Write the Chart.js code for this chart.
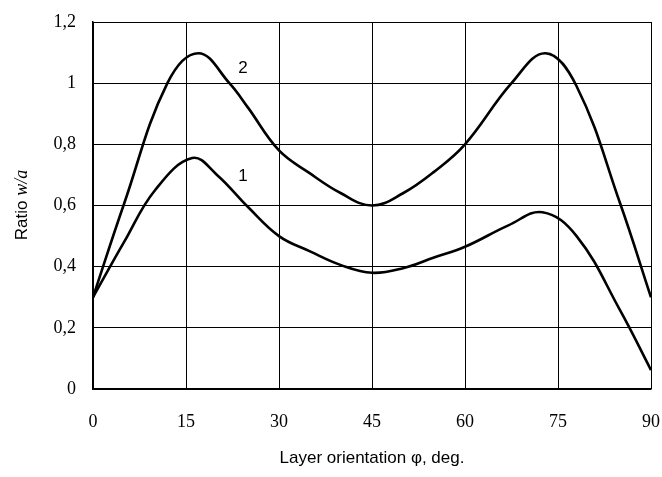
<!DOCTYPE html>
<html>
<head>
<meta charset="utf-8">
<script src="https://cdn.jsdelivr.net/npm/chart.js@4"></script>
<style>
  html, body { margin: 0; padding: 0; background: #fff; }
  #wrap { width: 662px; height: 477px; }
</style>
</head>
<body>
<div id="wrap"><canvas id="chart" width="662" height="477"></canvas></div>
<script>
// angle values (deg) and ratio w/a for the two curves
const angles1 = [0, 5, 10, 16, 20, 25, 30, 35, 40, 45, 50, 55, 60, 67, 72.5, 78, 85, 90];
const ratio1  = [0.30, 0.48, 0.65, 0.755, 0.70, 0.595, 0.50, 0.45, 0.405, 0.38, 0.395, 0.43, 0.465, 0.535, 0.578, 0.50, 0.258, 0.062];

const angles2 = [0, 5, 12, 17, 22, 25, 30, 35, 40, 45, 50, 55, 60, 67.5, 73, 78, 85, 90];
const ratio2  = [0.30, 0.605, 1.00, 1.098, 1.00, 0.92, 0.78, 0.705, 0.64, 0.60, 0.64, 0.71, 0.80, 1.00, 1.098, 0.99, 0.608, 0.30];

const xTicks = [0, 15, 30, 45, 60, 75, 90];
const yTicks = [0, 0.2, 0.4, 0.6, 0.8, 1, 1.2];

// curve labels (at x deg, y ratio)
const curveLabels = ["1", "2"];
const labelX = [24.2, 24.2];
const labelY = [0.695, 1.05];

const toPoints = (xs, ys) => xs.map((x, i) => ({ x: x, y: ys[i] }));

// -------------------- curve numbers + y title with italic w/a --------------------
const extras = {
    id: "extras",
    afterDraw(chart) {
        const ctx = chart.ctx;
        const sx = chart.scales.x, sy = chart.scales.y;
        ctx.save();
        ctx.fillStyle = "#000";
        ctx.font = "17px 'Liberation Sans', Arial, sans-serif";
        ctx.textAlign = "center";
        ctx.textBaseline = "middle";
        curveLabels.forEach((t, i) => {
            ctx.fillText(t, sx.getPixelForValue(labelX[i]), sy.getPixelForValue(labelY[i]));
        });

        // y axis title
        const a = "Ratio ";
        const b = "w/a";
        const fa = "17px 'Liberation Sans', Arial, sans-serif";
        const fb = "italic 18px 'Liberation Serif', 'Times New Roman', serif";
        ctx.font = fa;
        const wa = ctx.measureText(a).width;
        ctx.font = fb;
        const wb = ctx.measureText(b).width;
        const total = wa + wb;
        ctx.translate(22, 205);
        ctx.rotate(-Math.PI / 2);
        ctx.textAlign = "left";
        ctx.font = fa;
        ctx.fillText(a, -total / 2, 0);
        ctx.font = fb;
        ctx.fillText(b, -total / 2 + wa, 0);
        ctx.restore();
    }
};

new Chart(document.getElementById("chart"), {
    type: "line",
    data: {
        datasets: [
            { data: toPoints(angles1, ratio1), borderColor: "#000", borderWidth: 2.6, pointRadius: 0, tension: 0.4, fill: false },
            { data: toPoints(angles2, ratio2), borderColor: "#000", borderWidth: 2.6, pointRadius: 0, tension: 0.4, fill: false }
        ]
    },
    options: {
        responsive: false,
        animation: false,
        layout: { padding: { left: 0, right: 11, top: 22, bottom: 0 } },
        plugins: { legend: { display: false }, tooltip: { enabled: false } },
        scales: {
            x: {
                type: "linear",
                min: 0, max: 90,
                afterBuildTicks: s => { s.ticks = xTicks.map(v => ({ value: v })); },
                afterFit: s => { s.height = 88; s.paddingLeft = 0; s.paddingRight = 0; },
                grid: { color: "#000", lineWidth: 1, drawTicks: false },
                border: { color: "#000", width: 1.5 },
                ticks: {
                    padding: 22,
                    color: "#000",
                    font: { family: "'Liberation Serif', 'Times New Roman', serif", size: 18 }
                },
                title: {
                    display: true,
                    text: "Layer orientation \u03c6, deg.",
                    color: "#000",
                    padding: { top: 0, bottom: 8 },
                    font: { family: "'Liberation Sans', Arial, sans-serif", size: 17 }
                }
            },
            y: {
                min: 0, max: 1.2,
                afterBuildTicks: s => { s.ticks = yTicks.map(v => ({ value: v })); },
                afterFit: s => { s.width = 93; s.paddingTop = 0; s.paddingBottom = 0; },
                grid: { color: "#000", lineWidth: 1, drawTicks: false },
                border: { color: "#000", width: 1.5 },
                ticks: {
                    padding: 17,
                    color: "#000",
                    font: { family: "'Liberation Serif', 'Times New Roman', serif", size: 18 },
                    callback: v => String(Math.round(v * 10) / 10).replace(".", ",")
                }
            }
        }
    },
    plugins: [extras]
});
</script>
</body>
</html>
